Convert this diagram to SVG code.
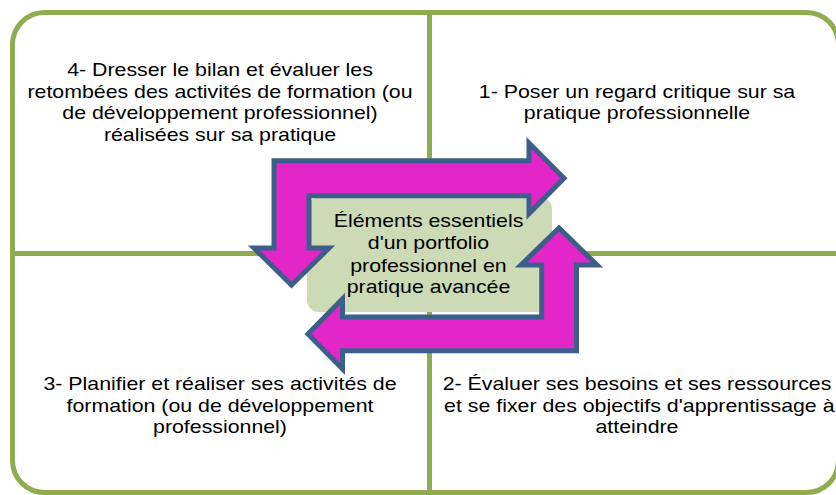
<svg xmlns="http://www.w3.org/2000/svg" width="836" height="495" viewBox="0 0 836 495">
<style>
.quad{fill:#ffffff;stroke:#8FAD50;stroke-width:5}
.t{font-family:"Liberation Sans",Arial,sans-serif;font-size:18.6px;fill:#000000;text-anchor:middle}
.arrow{fill:#E326C8;stroke:#3B5E8A;stroke-width:5;stroke-linejoin:miter}
.core{fill:#CDDAB6}
</style>
<rect width="836" height="495" fill="#ffffff"/>
<g id="q4">
<path class="quad" d="M12.5,253.5 V44.5 A32,32 0 0 1 44.5,12.5 H429.5 V253.5 Z"/>
<text class="t" transform="translate(220,0) scale(1.147,1)"><tspan x="0" y="76">4- Dresser le bilan et évaluer les</tspan><tspan x="0" y="97.7">retombées des activités de formation (ou</tspan><tspan x="0" y="119.3">de développement professionnel)</tspan><tspan x="0" y="141">réalisées sur sa pratique</tspan></text>
</g>
<g id="q1">
<path class="quad" d="M429.5,12.5 H806.5 A32,32 0 0 1 838.5,44.5 V253.5 H429.5 Z"/>
<text class="t" transform="translate(637,0) scale(1.147,1)"><tspan x="0" y="97.7">1- Poser un regard critique sur sa</tspan><tspan x="0" y="119.3">pratique professionnelle</tspan></text>
</g>
<g id="q2">
<path class="quad" d="M429.5,253.5 H838.5 V460.5 A32,32 0 0 1 806.5,492.5 H429.5 Z"/>
<text class="t" transform="translate(637,0) scale(1.147,1)"><tspan x="0" y="390">2- Évaluer ses besoins et ses ressources</tspan><tspan x="2" y="411.7">et se fixer des objectifs d'apprentissage à</tspan><tspan x="0" y="433">atteindre</tspan></text>
</g>
<g id="q3">
<path class="quad" d="M12.5,253.5 H429.5 V492.5 H44.5 A32,32 0 0 1 12.5,460.5 Z"/>
<text class="t" transform="translate(220,0) scale(1.147,1)"><tspan x="0" y="390">3- Planifier et réaliser ses activités de</tspan><tspan x="0" y="411.7">formation (ou de développement</tspan><tspan x="0" y="433">professionnel)</tspan></text>
</g>
<g id="center">
<rect class="core" x="307" y="197" width="245" height="115" rx="12" ry="12"/>
</g>
<g id="connectors">
<path class="arrow" d="M274,160.8 H529 V143 L564,178.3 L529,213.6 V195.8 H309 V248 H329 L291.5,285 L254,248 H274 Z"/>
<path class="arrow" d="M576.5,350.8 H342.5 V369 L308,333.9 L342.5,298.8 V317 H541.7 V265 H521 L559,228 L597,265 H576.5 Z"/>
</g>
<g id="center-label">
<text class="t" transform="translate(428.5,0) scale(1.147,1)"><tspan x="0" y="226.7">Éléments essentiels</tspan><tspan x="0" y="249">d'un portfolio</tspan><tspan x="0" y="271.7">professionnel en</tspan><tspan x="0" y="293.3">pratique avancée</tspan></text>
</g>
</svg>
